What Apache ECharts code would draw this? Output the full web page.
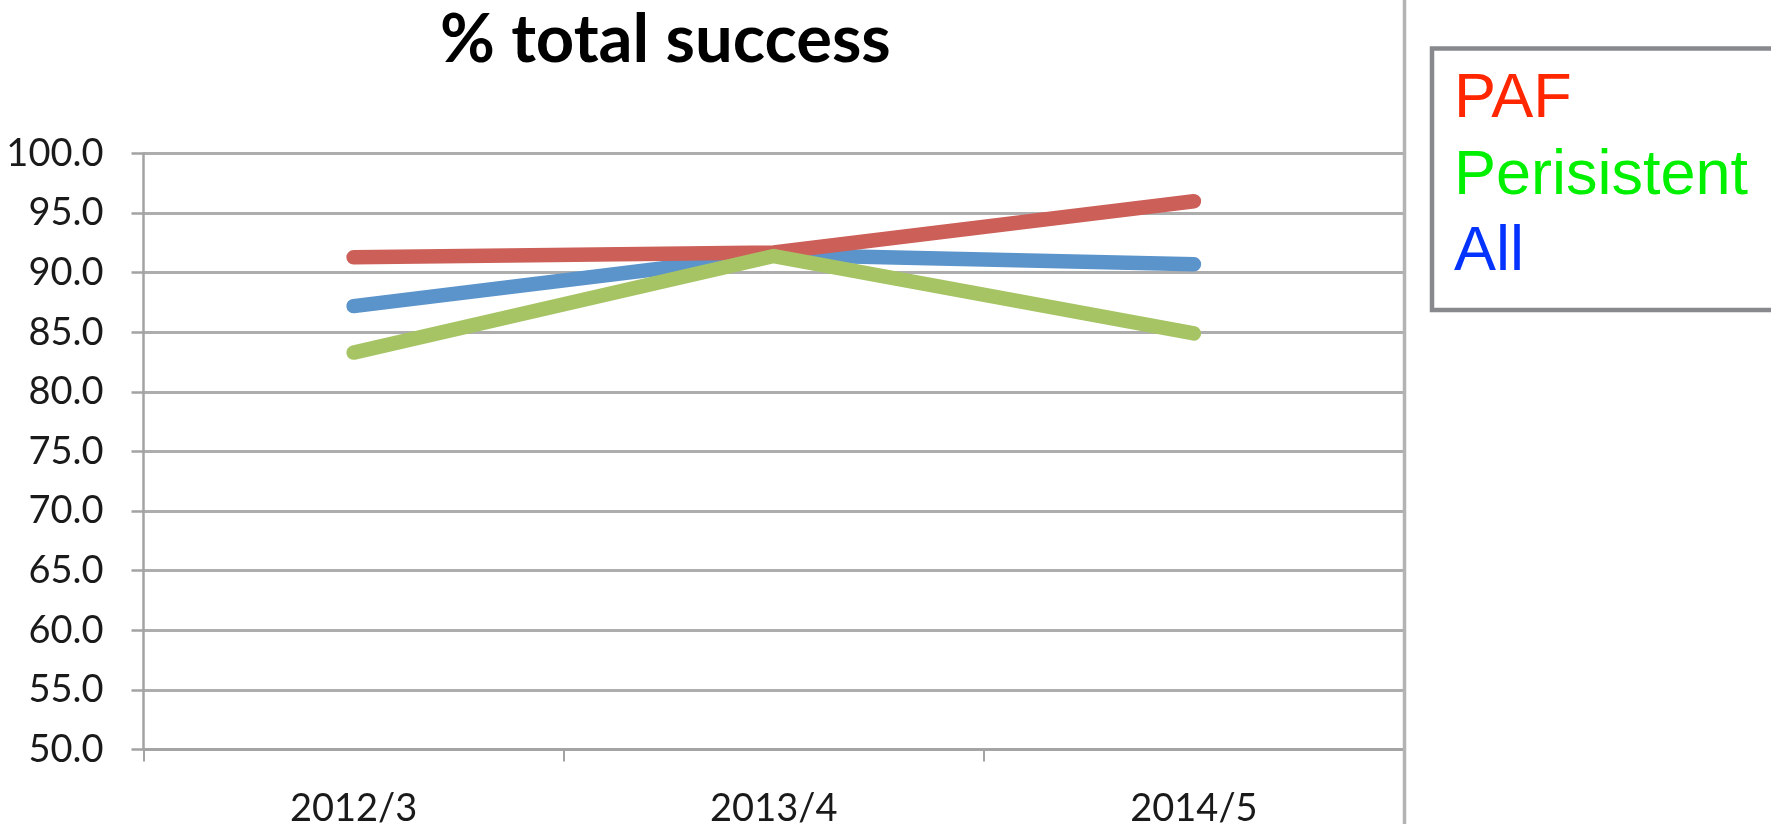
<!DOCTYPE html>
<html>
<head>
<meta charset="utf-8">
<title>% total success</title>
<script src="https://cdn.jsdelivr.net/npm/echarts@6/dist/echarts.min.js"></script>
<style>
  html, body { margin: 0; padding: 0; background: #ffffff; }
  #chart { width: 1771px; height: 824px; }
</style>
</head>
<body>
<div id="chart"></div>
<script>
// Survey periods on the category axis
const periods = ['2012/3', '2013/4', '2014/5'];

// Series values (%)
const allValues = [87.2, 91.5, 90.7];
const pafValues = [91.3, 91.7, 96.0];
const persistentValues = [83.3, 91.4, 84.9];

// Series names, in drawing order
const seriesNames = ['All', 'PAF', 'Perisistent'];

// Value axis range and step
const yMin = 50;
const yMax = 100;
const yStep = 5;

// Line colours and the separate key's text colours
const lineColors = { All: '#5b94cb', PAF: '#cc5f58', Perisistent: '#a6c464' };
const keyColors = { PAF: '#ff2600', Perisistent: '#00f000', All: '#0433ff' };
const keyOrder = ['PAF', 'Perisistent', 'All'];

const valuesByName = { All: allValues, PAF: pafValues, Perisistent: persistentValues };

const chart = echarts.init(document.getElementById('chart'), null, { renderer: 'canvas' });

const gridLeft = 143.5, gridRight = 1404, gridTop = 153.5, gridBottom = 749.5;

const keyGraphics = keyOrder.map((name, i) => ({
  type: 'text',
  left: 1454,
  top: 68 + i * 76.7,
  style: {
    text: name,
    fill: keyColors[name],
    font: '63px "Liberation Sans", Arial, sans-serif'
  },
  z: 10
}));

chart.setOption({
  animation: false,
  backgroundColor: '#ffffff',
  title: {
    text: '% total success',
    left: 440,
    top: 7,
    padding: 0,
    textStyle: {
      fontFamily: 'Lato, sans-serif',
      fontWeight: 'bold',
      fontSize: 67,
      color: '#000000'
    }
  },
  grid: {
    left: gridLeft,
    top: gridTop,
    width: gridRight - gridLeft,
    height: gridBottom - gridTop,
    containLabel: false,
    outerBoundsMode: 'none'
  },
  xAxis: {
    type: 'category',
    data: periods,
    boundaryGap: true,
    axisLine: { show: true, lineStyle: { color: '#a3a3a3', width: 2.5 } },
    axisTick: { show: true, length: 12, lineStyle: { color: '#a3a3a3', width: 2 } },
    axisLabel: {
      margin: 40,
      fontFamily: 'Lato, sans-serif',
      fontSize: 38,
      color: '#1a1a1a'
    },
    splitLine: { show: false }
  },
  yAxis: {
    type: 'value',
    min: yMin,
    max: yMax,
    interval: yStep,
    axisLine: { show: true, lineStyle: { color: '#a3a3a3', width: 2.5 } },
    axisTick: { show: true, length: 12, lineStyle: { color: '#a3a3a3', width: 2.5 } },
    axisLabel: {
      margin: 40,
      fontFamily: 'Lato, sans-serif',
      fontSize: 38,
      color: '#1a1a1a',
      formatter: v => v.toFixed(1)
    },
    splitLine: { show: true, lineStyle: { color: '#adadad', width: 3 } }
  },
  series: seriesNames.map(name => ({
    name: name,
    type: 'line',
    data: valuesByName[name],
    symbol: 'none',
    lineStyle: { color: lineColors[name], width: 14.5, cap: 'round', join: 'round' },
    itemStyle: { color: lineColors[name] },
    silent: true
  })),
  graphic: [
    // Right-hand divider running the full height
    {
      type: 'line',
      shape: { x1: 1404.5, y1: 0, x2: 1404.5, y2: 824 },
      style: { stroke: '#b3b3b3', lineWidth: 3.5 },
      z: 5
    },
    // Key box
    {
      type: 'rect',
      shape: { x: 1432, y: 48.5, width: 400, height: 261.5 },
      style: { fill: '#ffffff', stroke: '#87898d', lineWidth: 4.5 },
      z: 9
    }
  ].concat(keyGraphics)
});
</script>
</body>
</html>
